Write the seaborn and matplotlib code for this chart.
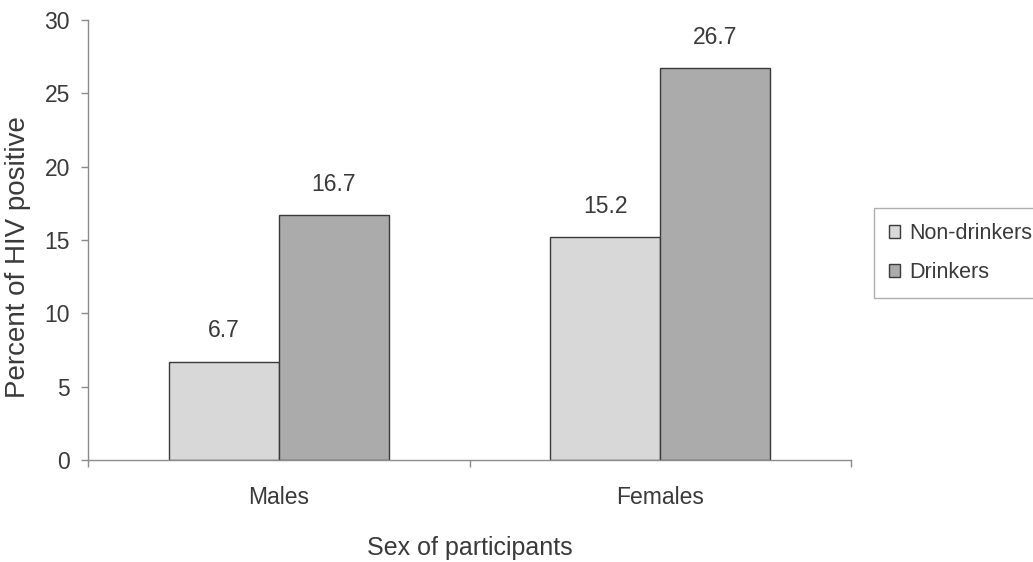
import matplotlib
matplotlib.use("Agg")
import matplotlib.pyplot as plt
import seaborn as sns
import pandas as pd
from matplotlib.ticker import FixedLocator

# HIV prevalence by sex and drinking status
sexes = ["Males", "Females"]
groups = ["Non-drinkers", "Drinkers"]
non_drinkers = [6.7, 15.2]
drinkers = [16.7, 26.7]
y_ticks = [0, 5, 10, 15, 20, 25, 30]

df = pd.DataFrame({
    "sex": sexes * 2,
    "group": [groups[0]] * len(sexes) + [groups[1]] * len(sexes),
    "percent": non_drinkers + drinkers,
})

sns.set_theme(style="white")
plt.rcParams["font.family"] = ["Liberation Sans", "DejaVu Sans"]

TEXT = "#3a3a3a"
AXIS = "#8c8c8c"

fig = plt.figure(figsize=(10.33, 5.62), dpi=100)
ax = fig.add_axes([88 / 1033, 1 - 460 / 562, (851 - 88) / 1033, (460 - 20) / 562])

palette = {"Non-drinkers": "#d8d8d8", "Drinkers": "#ababab"}
sns.barplot(data=df, x="sex", y="percent", hue="group", order=sexes,
            hue_order=groups, palette=palette, width=0.577, gap=0,
            edgecolor="#3a3a3a", linewidth=1.0, saturation=1, ax=ax)

for cont in ax.containers:
    ax.bar_label(cont, fmt="%.1f", padding=14, fontsize=16.5, color=TEXT)

ax.set_xlim(-0.5, 1.5)
ax.set_ylim(0, 30)
ax.set_yticks(y_ticks)
ax.set_xlabel("")
ax.set_ylabel("")

for side in ["top", "right"]:
    ax.spines[side].set_visible(False)
for side in ["left", "bottom"]:
    ax.spines[side].set_color(AXIS)
    ax.spines[side].set_linewidth(1.0)

ax.tick_params(axis="y", which="major", left=True, length=5, width=1,
               color=AXIS, pad=8, labelsize=16.5, labelcolor=TEXT)
ax.tick_params(axis="x", which="major", bottom=False, length=0, pad=19,
               labelsize=16.5, labelcolor=TEXT)
ax.xaxis.set_minor_locator(FixedLocator([-0.5, 0.5, 1.5]))
ax.tick_params(axis="x", which="minor", bottom=True, length=5, width=1,
               color=AXIS)

fig.text(18 / 1033, 1 - 257 / 562, "Percent of HIV positive", rotation=90,
         ha="center", va="center", fontsize=20, color=TEXT)
fig.text(470 / 1033, 1 - 548 / 562, "Sex of participants",
         ha="center", va="center", fontsize=18, color=TEXT)

leg = ax.legend(loc="upper left", bbox_to_anchor=(874 / 1033, 1 - 208 / 562),
                bbox_transform=fig.transFigure, frameon=True, fancybox=False,
                fontsize=15.5, handlelength=0.55, handleheight=0.55,
                handletextpad=0.4, borderpad=0.68, borderaxespad=0,
                labelspacing=0.85)
leg.get_frame().set_edgecolor("#9a9a9a")
leg.get_frame().set_linewidth(1.0)
for t in leg.get_texts():
    t.set_color(TEXT)

fig.savefig("out.png", dpi=100, facecolor="white")
